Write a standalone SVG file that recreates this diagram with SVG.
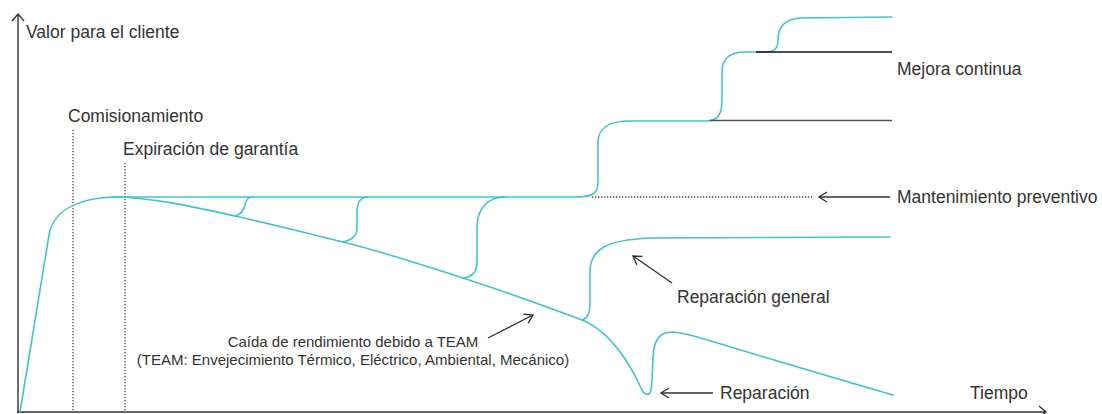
<svg xmlns="http://www.w3.org/2000/svg" width="1102" height="414" viewBox="0 0 1102 414">
<style>
.lbl{font-family:"Liberation Sans",Arial,sans-serif;font-size:17.5px;fill:#333}
.sm{font-family:"Liberation Sans",Arial,sans-serif;font-size:15px;fill:#333;text-anchor:middle}
.teal{fill:none;stroke:#45c3cb;stroke-width:1.6;stroke-linecap:round;stroke-linejoin:round}
.axis{fill:none;stroke:#333;stroke-width:1.4}
.dot{fill:none;stroke:#444;stroke-width:1.3;stroke-dasharray:1.3 1.7}
.arr{fill:none;stroke:#333;stroke-width:1.4;marker-end:url(#ah)}
</style>
<defs>
<marker id="ah" viewBox="0 0 12 12" refX="11" refY="6" markerWidth="12" markerHeight="12" markerUnits="userSpaceOnUse" orient="auto">
<path d="M3,1 L11,6 L3,11" fill="none" stroke="#333" stroke-width="1.4"/>
</marker>
</defs>
<rect width="1102" height="414" fill="#fff"/>
<g id="axes">
<path class="axis" d="M18,413 L18,14 M12,21 L18,14 L24,21"/>
<path class="axis" d="M17,412 L1046,412 M1039,406 L1046,412 L1039,418"/>
<text class="lbl" x="26" y="38">Valor para el cliente</text>
<text class="lbl" x="970" y="399">Tiempo</text>
</g>
<g id="commissioning">
<path class="dot" d="M73,130 L73,412"/>
<text class="lbl" x="68" y="122">Comisionamiento</text>
</g>
<g id="warranty">
<path class="dot" d="M125,163 L125,412"/>
<text class="lbl" x="123" y="155">Expiración de garantía</text>
</g>
<g id="curves">
<path class="teal" d="M20,412 L49,235 C53,212 75,199 112,197 L575,197 C590,197 598,195 598,183 L598,143 C598,128 608,121 630,121 L706,121 C718,121 722,114 722,100 L722,72 C722,58 730,52 745,52 L765,52 C775,52 778,48 778,40 C778,26 785,19 800,18 L892,17"/>
<path class="teal" d="M112,197 C150,197 190,206 235,216 C280,226 310,234 343,242 C383,252 420,264 463,278 C503,291 545,306 582,320 C612,332 632,368 641,388 C644,395 649,397 651,390 C653,383 652,360 654,348 C657,334 665,332 673,332 C690,333 720,345 893,395"/>
<path class="teal" d="M235,216 C242,214 244,210 245,205 C246,200 248,197 252,197"/>
<path class="teal" d="M343,242 C352,240 357,236 357,228 L357,212 C357,202 361,197 368,197"/>
<path class="teal" d="M463,278 C472,277 477,272 477,262 L477,228 C477,208 488,197 505,197"/>
<path class="teal" d="M582,320 C588,318 590,313 590,302 L590,272 C590,250 605,240 650,238 L890,237"/>
</g>
<g id="mejora">
<path d="M756,52 L892,52" stroke="#111" stroke-width="1.4"/>
<path d="M710,120.5 L892,120.5" stroke="#555" stroke-width="1.4"/>
<text class="lbl" x="897" y="75">Mejora continua</text>
</g>
<g id="preventivo">
<path class="dot" d="M592,197 L812,197"/>
<path class="arr" d="M890,197 L819,197"/>
<text class="lbl" x="897" y="203">Mantenimiento preventivo</text>
</g>
<g id="general">
<path class="arr" d="M672,283 L633,256"/>
<text class="lbl" x="677" y="303">Reparación general</text>
</g>
<g id="reparacion">
<path class="arr" d="M713,393 L661,393"/>
<text class="lbl" x="720" y="399">Reparación</text>
</g>
<g id="caida">
<path class="arr" d="M488,338 L533,315"/>
<text class="sm" x="353" y="347">Caída de rendimiento debido a TEAM</text>
<text class="sm" x="353" y="365">(TEAM: Envejecimiento Térmico, Eléctrico, Ambiental, Mecánico)</text>
</g>
</svg>
